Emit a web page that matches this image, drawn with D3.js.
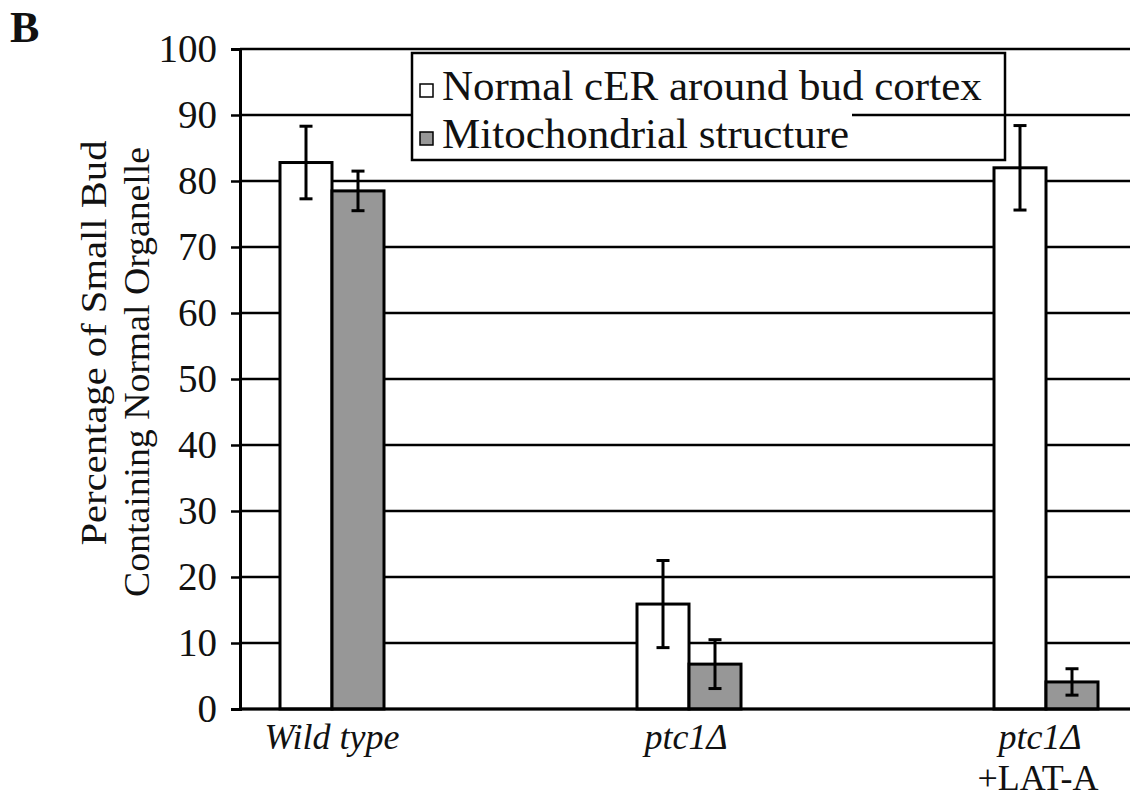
<!DOCTYPE html>
<html>
<head>
<meta charset="utf-8">
<script src="https://cdn.jsdelivr.net/npm/d3@7"></script>
</head>
<body style="margin:0">
<svg id="chart" width="1130" height="799" font-family="Liberation Serif"></svg>
<script>
var categories = ['Wild type', 'ptc1\u0394', 'ptc1\u0394'];
var subLabels = ['', '', '+LAT-A'];
var seriesNames = ['Normal cER around bud cortex', 'Mitochondrial structure'];
var normalCER = [82.8, 15.9, 82.0];
var normalCERErr = [5.5, 6.6, 6.4];
var mito = [78.5, 6.8, 4.1];
var mitoErr = [3.0, 3.7, 2.0];
var yTicks = [0, 10, 20, 30, 40, 50, 60, 70, 80, 90, 100];

var FONT = 'Liberation Serif';

var Config = {
    width: 1130,
    height: 799,
    left: 240,
    top: 49,
    bottom: 709,
    colors: ['#ffffff', '#979797']
};

var svg = d3.select('#chart');

var y = d3.scaleLinear().domain([0, 100]).range([Config.bottom, Config.top]);
// category bands: 357px apart, right part of chart is cropped like the source
var x0 = d3.scaleBand().domain([0, 1, 2]).range([153.5, 1224.5]);
var x1 = d3.scaleBand().domain([0, 1]).range([-52, 52]);

// gridlines
svg.append('g').selectAll('line')
    .data(yTicks)
    .join('line')
    .attr('x1', Config.left).attr('x2', Config.width)
    .attr('y1', d => y(d)).attr('y2', d => y(d))
    .attr('stroke', '#000').attr('stroke-width', 2.5);

// y axis
var yAxis = svg.append('g')
    .attr('transform', `translate(${Config.left},0)`)
    .call(d3.axisLeft(y).tickValues(yTicks).tickSize(9).tickPadding(14))
    .attr('font-family', FONT)
    .attr('font-size', 39);
yAxis.select('.domain').attr('stroke', '#000').attr('stroke-width', 3);
yAxis.selectAll('.tick line').attr('stroke', '#000').attr('stroke-width', 2.5);
yAxis.selectAll('.tick text').attr('fill', '#111');

// bars
var rows = [];
categories.forEach((c, i) => {
    rows.push({ cat: i, s: 0, v: normalCER[i], e: normalCERErr[i] });
    rows.push({ cat: i, s: 1, v: mito[i], e: mitoErr[i] });
});

svg.append('g').selectAll('rect')
    .data(rows)
    .join('rect')
    .attr('x', d => x0(d.cat) + x0.bandwidth() / 2 + x1(d.s))
    .attr('width', x1.bandwidth())
    .attr('y', d => y(d.v))
    .attr('height', d => y(0) - y(d.v))
    .attr('fill', d => Config.colors[d.s])
    .attr('stroke', '#000')
    .attr('stroke-width', 3);

// error bars
var eb = svg.append('g').attr('stroke', '#000').attr('stroke-width', 3);
rows.forEach(d => {
    var cx = x0(d.cat) + x0.bandwidth() / 2 + x1(d.s) + x1.bandwidth() / 2;
    eb.append('line').attr('x1', cx).attr('x2', cx).attr('y1', y(d.v + d.e)).attr('y2', y(d.v - d.e));
    eb.append('line').attr('x1', cx - 6.5).attr('x2', cx + 6.5).attr('y1', y(d.v + d.e)).attr('y2', y(d.v + d.e));
    eb.append('line').attr('x1', cx - 6.5).attr('x2', cx + 6.5).attr('y1', y(d.v - d.e)).attr('y2', y(d.v - d.e));
});

// baseline
svg.append('line')
    .attr('x1', Config.left).attr('x2', Config.width)
    .attr('y1', y(0)).attr('y2', y(0))
    .attr('stroke', '#000').attr('stroke-width', 3);

// category labels
var labelShift = [0, -3, -6];
svg.append('g').selectAll('text')
    .data(categories)
    .join('text')
    .attr('x', (d, i) => x0(i) + x0.bandwidth() / 2 + labelShift[i])
    .attr('y', 749)
    .attr('text-anchor', 'middle')
    .attr('fill', '#111')
    .attr('font-family', FONT)
    .attr('font-size', 36)
    .attr('font-style', 'italic')
    .text(d => d);
svg.append('g').selectAll('text')
    .data(subLabels)
    .join('text')
    .attr('x', (d, i) => x0(i) + x0.bandwidth() / 2 - 8)
    .attr('y', 790)
    .attr('text-anchor', 'middle')
    .attr('fill', '#111')
    .attr('font-family', FONT)
    .attr('font-size', 36)
    .text(d => d);

// y title
var titleLines = ['Percentage of Small Bud', 'Containing Normal Organelle'];
svg.append('g').selectAll('text')
    .data(titleLines)
    .join('text')
    .attr('transform', (d, i) => `translate(${[106, 149][i]},${[343, 372][i]}) rotate(-90)`)
    .attr('text-anchor', 'middle')
    .attr('fill', '#111')
    .attr('font-family', FONT)
    .attr('font-size', 35)
    .attr('textLength', (d, i) => [405, 450][i])
    .attr('lengthAdjust', 'spacingAndGlyphs')
    .text(d => d);

// panel letter
svg.append('text')
    .attr('x', 10).attr('y', 42)
    .attr('fill', '#111')
    .attr('font-family', FONT)
    .attr('font-size', 44)
    .attr('font-weight', 'bold')
    .text('B');

// legend; each entry has its own white backing, the second one stops after its text
var legendWidths = [593, 440];
var legend = svg.append('g').attr('transform', 'translate(412,53)');
var entries = legend.selectAll('g')
    .data(seriesNames)
    .join('g')
    .attr('transform', (d, i) => `translate(0,${i * 48})`);
entries.append('rect')
    .attr('x', 0).attr('y', (d, i) => i === 0 ? 0 : 10)
    .attr('width', (d, i) => legendWidths[i])
    .attr('height', (d, i) => i === 0 ? 58 : 46)
    .attr('fill', '#fff');
entries.append('rect')
    .attr('x', 8).attr('y', 31).attr('width', 13).attr('height', 13)
    .attr('fill', (d, i) => Config.colors[i])
    .attr('stroke', '#000').attr('stroke-width', 1.5);
entries.append('text')
    .attr('x', 30).attr('y', 47)
    .attr('fill', '#111')
    .attr('font-family', FONT)
    .attr('font-size', 43)
    .text(d => d);
legend.append('rect')
    .attr('x', 0).attr('y', 0).attr('width', 593).attr('height', 107)
    .attr('fill', 'none').attr('stroke', '#000').attr('stroke-width', 2.5);
</script>
</body>
</html>
